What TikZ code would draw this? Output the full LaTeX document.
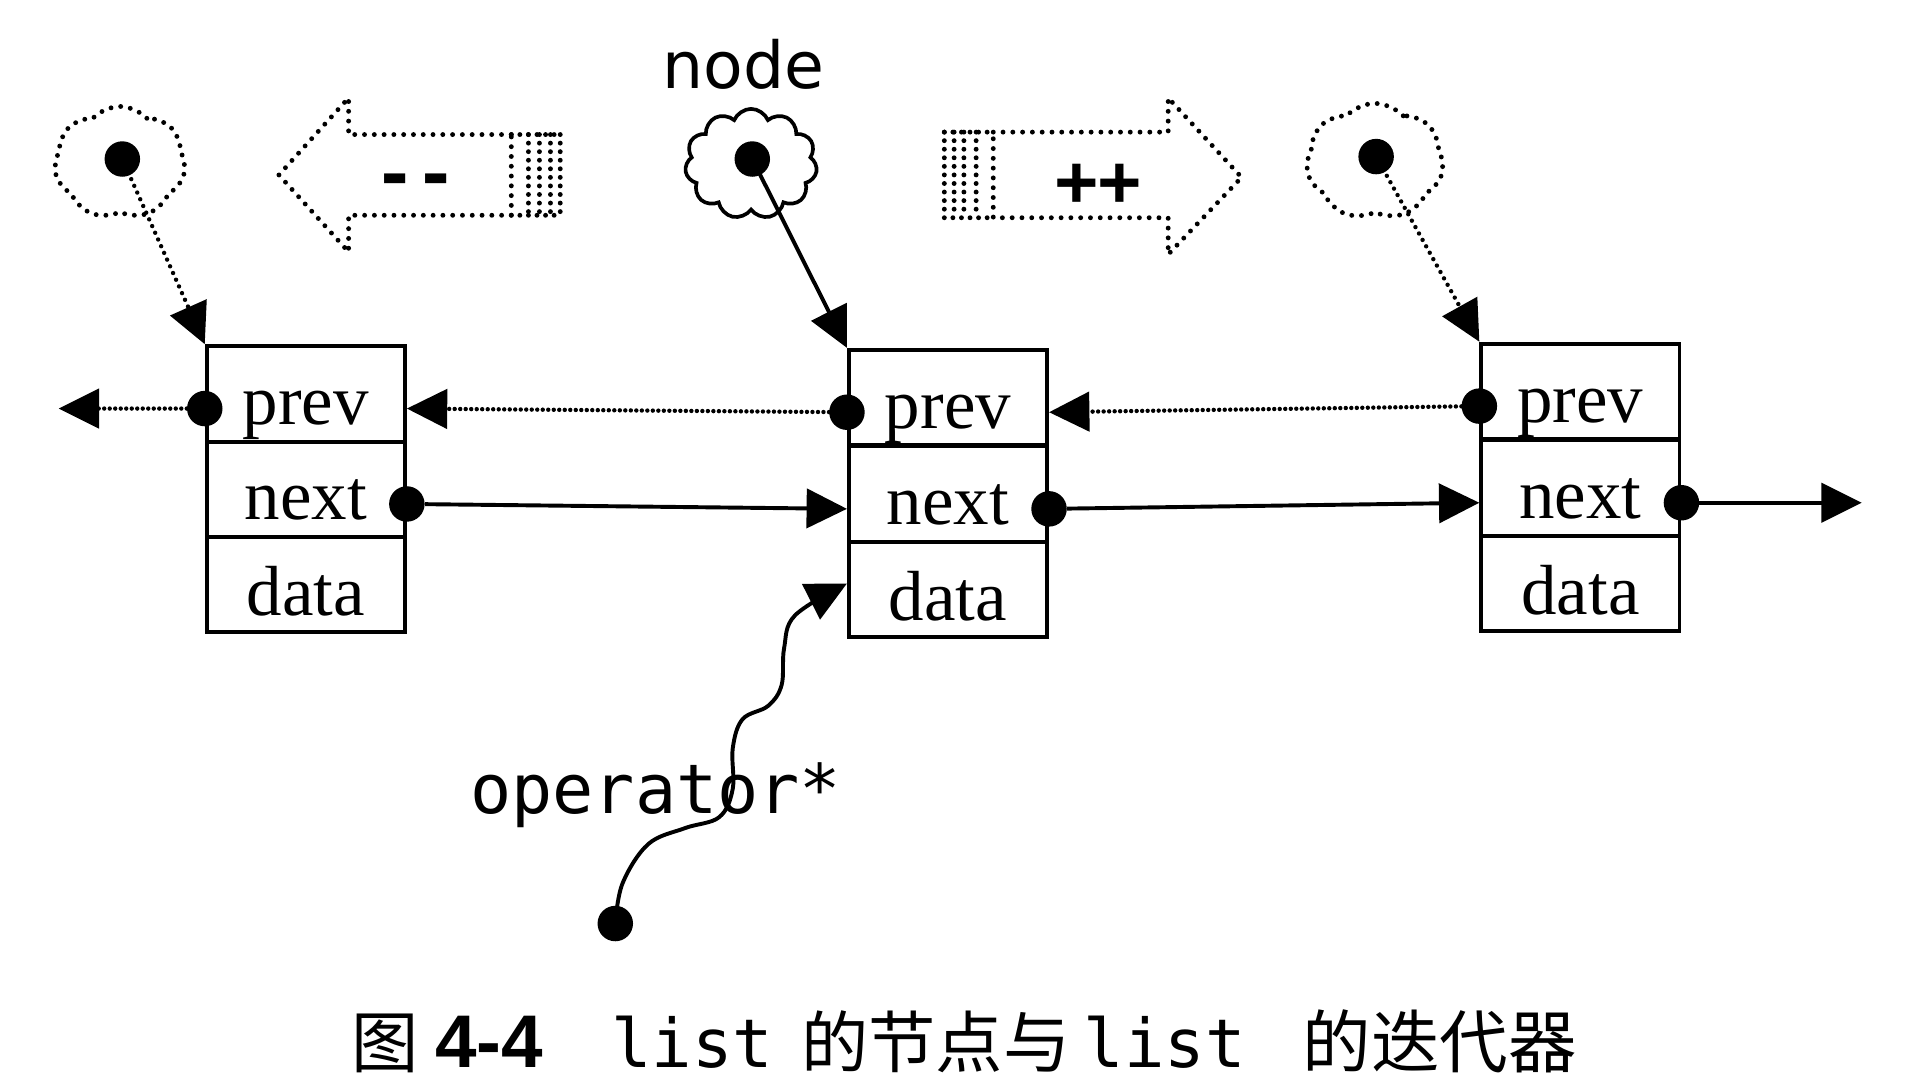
\documentclass[tikz,border=0pt]{standalone}
\usepackage{fontspec}
\setmainfont{Liberation Serif}
\newfontfamily\lblfont{DejaVu Sans}
\newfontfamily\monofnt{DejaVu Sans Mono}
\newfontfamily\cjkfnt{Noto Sans CJK SC}
\newfontfamily\capfnt{Liberation Sans}
\usetikzlibrary{arrows.meta,shapes.symbols,calc}
\tikzset{
  cell/.style={draw, line width=3.2pt, minimum width=162pt, minimum height=78pt,
    inner sep=0pt, text height=50pt, text depth=0pt, font=\fontsize{58}{60}\selectfont},
  ptr/.style={circle, fill=black, inner sep=0pt, minimum size=29pt},
  tipstyle/.style={-{Triangle[length=33pt,width=32pt]}},
  solidarrow/.style={line width=3.2pt, tipstyle},
  dotarrow/.style={line width=3.6pt, line cap=round, dash pattern=on 0pt off 4.5pt, tipstyle},
  dotline/.style={line width=4pt, line cap=round, dash pattern=on 0pt off 8pt},
  hatch/.style={line width=4pt, line cap=round, dash pattern=on 0pt off 7pt},
  dotcloud/.style={cloud, draw, dotline, cloud puffs=7, cloud puff arc=95, cloud ignores aspect, inner sep=0pt},
  solidcloud/.style={cloud, draw, line width=3pt, cloud puffs=11, cloud puff arc=135, cloud ignores aspect, inner sep=0pt},
  labeltext/.style={inner sep=0pt, anchor=base},
}
\begin{document}
\begin{tikzpicture}[x=1pt,y=-1pt]
\useasboundingbox (0,0) rectangle (1568,891);

% list nodes (boxes)
\node[cell] (Lp) at (250,322) {prev};
\node[cell] (Ln) at (250,400) {next};
\node[cell] (Ld) at (250,478) {data};
\node[cell] (Mp) at (775,325) {prev};
\node[cell] (Mn) at (775,404) {next};
\node[cell] (Md) at (775,482) {data};
\node[cell] (Rp) at (1292,320) {prev};
\node[cell] (Rn) at (1292,399) {next};
\node[cell] (Rd) at (1292,477) {data};

% pointer dots on the fields
\node[ptr] (Lpd) at ($(Lp.west)+(0,12)$) {};
\node[ptr] (Lnd) at ($(Ln.east)+(0,12)$) {};
\node[ptr] (Mpd) at ($(Mp.west)+(0,12)$) {};
\node[ptr] (Mnd) at ($(Mn.east)+(0,12)$) {};
\node[ptr] (Rpd) at ($(Rp.west)+(0,12)$) {};
\node[ptr] (Rnd) at ($(Rn.east)+(0,12)$) {};

\coordinate (Lpe) at ($(Lp.east)+(0,12)$);
\coordinate (Mpe) at ($(Mp.east)+(0,12)$);
\coordinate (Mnw) at ($(Mn.west)+(0,12)$);
\coordinate (Rnw) at ($(Rn.west)+(0,12)$);
\coordinate (Lend) at (48,334);
\coordinate (Rend) at (1522,411);

% prev links (dotted)
\draw[dotarrow] (Lpd) -- (Lend);
\draw[dotarrow] (Mpd) -- (Lpe);
\draw[dotarrow] (Rpd) -- (Mpe);
% next links (solid)
\draw[solidarrow] (Lnd) -- (Mnw);
\draw[solidarrow] (Mnd) -- (Rnw);
\draw[solidarrow] (Rnd) -- (Rend);

% iterators (clouds)
\node[dotcloud, minimum width=107pt, minimum height=92pt] (Lcl) at (98,133) {};
\node[solidcloud, minimum width=108pt, minimum height=90pt] (Mcl) at (614,134) {};
\node[dotcloud, minimum width=112pt, minimum height=95pt] (Rcl) at (1124,132) {};
\node[ptr] (Ldot) at (100,130) {};
\node[ptr] (Mdot) at (615,130) {};
\node[ptr] (Rdot) at (1125,128) {};
\draw[line width=3.6pt, line cap=round, dash pattern=on 0pt off 6pt, tipstyle] (Ldot.center) -- (Lp.north west);
\draw[solidarrow] (Mdot.center) -- (Mp.north west);
\draw[line width=3.6pt, line cap=round, dash pattern=on 0pt off 6pt, tipstyle] (Rdot.center) -- (Rp.north west);

\node[labeltext, font=\lblfont\fontsize{53}{56}\selectfont] (nodelbl) at (608,72) {node};

% decrement arrow (hollow, dotted)
\draw[dotline] (418,110) -- (285,110) -- (285,80) -- (228,143) -- (285,206) -- (285,176) -- (418,176) -- cycle;
\draw[hatch] (418,110) -- (458,110);
\draw[hatch] (418,176) -- (458,176);
\foreach \hx in {432,441,450,458} \draw[hatch] (\hx,110) -- (\hx,176);
\node[labeltext, font=\monofnt\bfseries\fontsize{56}{60}\selectfont] (dec) at (340,162) {-{}-};

% increment arrow (hollow, dotted)
\draw[dotline] (812,108) -- (955,108) -- (955,80) -- (1015,145) -- (955,208) -- (955,178) -- (812,178) -- cycle;
\draw[hatch] (772,108) -- (812,108);
\draw[hatch] (772,178) -- (812,178);
\foreach \hx in {772,780,788,798} \draw[hatch] (\hx,108) -- (\hx,178);
\node[labeltext, font=\monofnt\bfseries\fontsize{58}{60}\selectfont] (inc) at (898,168) {++};

% operator*
\node[ptr] (opdot) at (503,755) {};
\coordinate (opT) at ($(Md.west)+(0,-5)$);
\draw[solidarrow] plot[smooth, tension=0.6] coordinates {(opdot.center) (509,722) (530,690) (560,677) (588,668) (599,645) (599,612) (607,588) (628,577) (639,560) (641,530) (650,503) (opT)};
\node[labeltext, font=\monofnt\fontsize{56}{60}\selectfont] (oplbl) at (536,665) {operator*};

% caption
\node[labeltext, font=\cjkfnt\fontsize{55}{60}\selectfont] (c1) at (315,873) {图};
\node[labeltext, font=\capfnt\bfseries\fontsize{61}{64}\selectfont] (c2) at (400,873) {4-4};
\node[labeltext, font=\monofnt\fontsize{55}{60}\selectfont] (c3) at (566,873) {list};
\node[labeltext, font=\cjkfnt\fontsize{55}{60}\selectfont] (c4) at (765,873) {的节点与};
\node[labeltext, font=\monofnt\fontsize{55}{60}\selectfont] (c5) at (952,873) {list};
\node[labeltext, font=\cjkfnt\fontsize{56}{60}\selectfont] (c6) at (1177,873) {的迭代器};
\end{tikzpicture}
\end{document}
